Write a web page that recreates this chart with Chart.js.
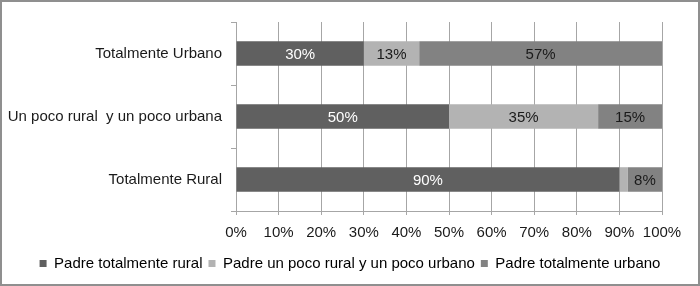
<!DOCTYPE html>
<html>
<head>
<meta charset="utf-8">
<script src="https://cdn.jsdelivr.net/npm/chart.js@4"></script>
<style>
  html, body { margin: 0; padding: 0; background: #fff; }
  #wrap { width: 700px; height: 286px; box-sizing: border-box; border: 2px solid #8f8f8f; position: relative; }
</style>
</head>
<body>
<div id="wrap"><canvas id="barChart" width="696" height="282"></canvas></div>
<script>
// categorias (de arriba hacia abajo) y porcentajes por serie
const categorias = ['Totalmente Urbano', 'Un poco rural  y un poco urbana', 'Totalmente Rural'];
const padreRural = [30, 50, 90];
const padrePoco = [13, 35, 2];
const padreUrbano = [57, 15, 8];
const seriesNames = ['Padre totalmente rural', 'Padre un poco rural y un poco urbano', 'Padre totalmente urbano'];

// etiquetas dentro de las barras
const barLabels = {
  id: 'barLabels',
  afterDatasetsDraw(chart) {
    const ctx = chart.ctx;
    ctx.save();
    ctx.font = '15px "Liberation Sans", Arial, sans-serif';
    ctx.textAlign = 'center';
    ctx.textBaseline = 'middle';
    chart.data.datasets.forEach((ds, i) => {
      const meta = chart.getDatasetMeta(i);
      meta.data.forEach((bar, j) => {
        const v = ds.data[j];
        if (v < 5) return;
        ctx.fillStyle = i === 0 ? '#ffffff' : '#1a1a1a';
        const x = (bar.x + bar.base) / 2;
        ctx.fillText(v + '%', x, bar.y + 1);
      });
    });
    ctx.restore();
  }
};

const gray = '#a6a6a6';
const font = { family: '"Liberation Sans", Arial, sans-serif', size: 15 };

new Chart(document.getElementById('barChart').getContext('2d'), {
  type: 'bar',
  data: {
    labels: categorias,
    datasets: [
      { label: seriesNames[0], data: padreRural, backgroundColor: '#606060' },
      { label: seriesNames[1], data: padrePoco, backgroundColor: '#b3b3b3' },
      { label: seriesNames[2], data: padreUrbano, backgroundColor: '#828282' }
    ]
  },
  options: {
    indexAxis: 'y',
    responsive: false,
    animation: false,
    layout: { padding: { top: 20, left: 0, right: 0, bottom: 3 } },
    datasets: { bar: { barPercentage: 0.39, categoryPercentage: 1 } },
    plugins: {
      tooltip: { enabled: false },
      legend: {
        position: 'bottom',
        labels: {
          boxWidth: 7, boxHeight: 7, padding: 6,
          color: '#1a1a1a', font: font,
          generateLabels(chart) {
            return chart.data.datasets.map((ds, i) => ({
              text: ds.label, fillStyle: ds.backgroundColor, strokeStyle: ds.backgroundColor,
              lineWidth: 0, datasetIndex: i
            }));
          }
        }
      }
    },
    scales: {
      x: {
        stacked: true, min: 0, max: 100,
        ticks: {
          stepSize: 10, color: '#1a1a1a', font: font, padding: 9,
          minRotation: 0, maxRotation: 0, autoSkip: false,
          callback: v => v + '%'
        },
        grid: { color: gray, lineWidth: 1, tickLength: 4 },
        border: { color: gray },
        afterFit(scale) { scale.height = 39; }
      },
      y: {
        stacked: true,
        ticks: { color: '#1a1a1a', font: font, padding: 9 },
        grid: { color: gray, drawOnChartArea: false, tickLength: 5, offset: true },
        border: { color: gray },
        afterFit(scale) { scale.width = 234; }
      },
      // espacio vacio a la derecha del grafico
      margenDer: {
        type: 'linear', axis: 'y', position: 'right',
        ticks: { display: false },
        grid: { display: false },
        border: { display: false },
        afterFit(scale) { scale.width = 36; }
      }
    }
  },
  plugins: [barLabels]
});
</script>
</body>
</html>
